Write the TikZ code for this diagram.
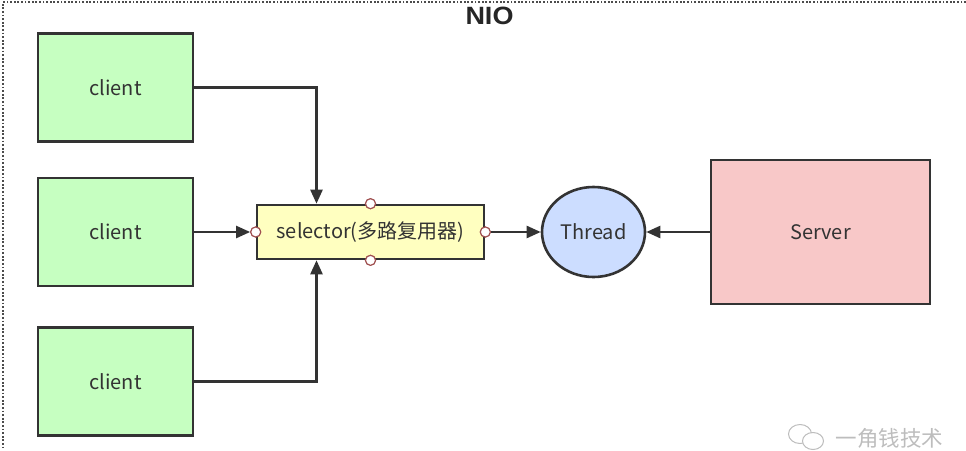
\documentclass[tikz,border=0pt]{standalone}
\usepackage{fontspec}
\setmainfont{Noto Sans CJK SC}
\newfontfamily\titlefont{Liberation Sans}
\usetikzlibrary{arrows.meta,shapes.geometric}
\definecolor{lineC}{HTML}{333333}
\definecolor{textC}{HTML}{333333}
\definecolor{clientC}{HTML}{C6FFC1}
\definecolor{selC}{HTML}{FFFFC0}
\definecolor{threadC}{HTML}{CCDDFF}
\definecolor{serverC}{HTML}{F8C8C8}
\definecolor{portC}{HTML}{A05050}
\definecolor{wmC}{HTML}{BDBDBD}
\begin{document}
\begin{tikzpicture}[x=1pt,y=-1pt,
  box/.style={draw=lineC,line width=2.6pt,text=textC,inner sep=0pt,font=\fontsize{20}{24}\selectfont},
  clientbox/.style={box,fill=clientC,minimum width=155pt,minimum height=108pt},
  selbox/.style={box,fill=selC,minimum width=227pt,minimum height=54pt},
  threadbox/.style={box,ellipse,fill=threadC,minimum width=103pt,minimum height=90pt},
  serverbox/.style={box,fill=serverC,minimum width=219pt,minimum height=144pt},
  port/.style={circle,draw=portC,fill=white,line width=1.1pt,minimum size=10pt,inner sep=0pt},
  conn/.style={draw=lineC,line width=2.4pt,-{Triangle[length=14pt,width=12pt]}},
  frame/.style={draw=black!70,line width=2pt,dash pattern=on 1.8pt off 1.8pt}
]
\useasboundingbox (0,0) rectangle (966,450);
% dotted frame
\coordinate (ftl) at (3,2);
\coordinate (ftr) at (966,2);
\coordinate (fbl) at (3,448);
\draw[frame] (ftr) -- (ftl) -- (fbl);
\node[font=\titlefont\bfseries\fontsize{25}{28}\selectfont,text=black!85,xscale=1.08] (title) at (489.5,16) {NIO};
% nodes
\node[clientbox] (c1) at (115.5,87.5) {client};
\node[clientbox] (c2) at (115.5,232) {client};
\node[clientbox] (c3) at (115.5,381.5) {client};
\node[selbox] (sel) at (370.5,232) {selector(多路复用器)};
\node[threadbox] (th) at (593.5,232) {Thread};
\node[serverbox] (srv) at (820.5,232) {Server};
% ports
\node[port] (pn) at (sel.north) {};
\node[port] (ps) at (sel.south) {};
\node[port] (pw) at (sel.west) {};
\node[port] (pe) at (sel.east) {};
% connectors
\draw[conn] (c1.east) -| ([xshift=-54pt]sel.north);
\draw[conn] (c3.east) -| ([xshift=-54pt]sel.south);
\draw[conn] (c2.east) -- (pw.west);
\draw[conn] (pe.east) -- (th.west);
\draw[conn] (srv.west) -- (th.east);
% redraw ports on top
\node[port] at (sel.north) {};
\node[port] at (sel.south) {};
\node[port] at (sel.west) {};
\node[port] at (sel.east) {};
% watermark
\node[draw=wmC,line width=1pt,ellipse,minimum width=23pt,minimum height=19pt,inner sep=0pt] (wb1) at (800,434) {};
\node[draw=wmC,line width=1pt,fill=white,ellipse,minimum width=21pt,minimum height=17pt,inner sep=0pt] (wb2) at (813,441) {};
\node[text=wmC,font=\fontsize{21.5}{24}\selectfont,anchor=west] (wm) at (832,438) {一角钱技术};
\end{tikzpicture}
\end{document}
